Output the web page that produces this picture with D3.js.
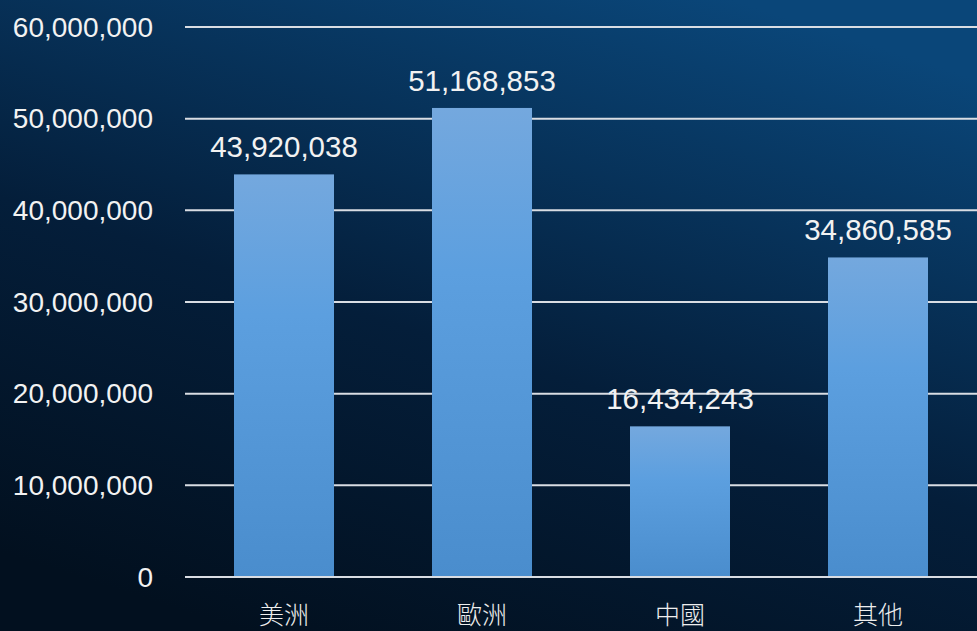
<!DOCTYPE html>
<html>
<head>
<meta charset="utf-8">
<script src="https://cdn.jsdelivr.net/npm/d3@7"></script>
<style>
  html, body { margin: 0; padding: 0; }
  svg { display: block; }
</style>
</head>
<body>
<svg width="977" height="631"></svg>
<script>
const categories = ['美洲', '歐洲', '中國', '其他'];
const values = [43920038, 51168853, 16434243, 34860585];
const yTicks = [0, 10000000, 20000000, 30000000, 40000000, 50000000, 60000000];

const svg = d3.select('svg');
const width = +svg.attr('width');
const height = +svg.attr('height');

const defs = svg.append('defs');
const bg = defs.append('linearGradient')
    .attr('id', 'bg')
    .attr('x1', '0.25').attr('y1', '1')
    .attr('x2', '0.75').attr('y2', '0');
bg.append('stop').attr('offset', '0').attr('stop-color', '#02101f');
bg.append('stop').attr('offset', '0.45').attr('stop-color', '#041e3a');
bg.append('stop').attr('offset', '1').attr('stop-color', '#0a4679');

const barGrad = defs.append('linearGradient')
    .attr('id', 'bar')
    .attr('x1', '0').attr('y1', '0')
    .attr('x2', '0').attr('y2', '1');
barGrad.append('stop').attr('offset', '0').attr('stop-color', '#74a8de');
barGrad.append('stop').attr('offset', '0.35').attr('stop-color', '#5c9fdf');
barGrad.append('stop').attr('offset', '1').attr('stop-color', '#4a8dcd');

svg.append('rect')
    .attr('width', width)
    .attr('height', height)
    .attr('fill', 'url(#bg)');

const x = d3.scaleBand()
    .domain(categories)
    .range([185, 977])
    .paddingInner(0.495)
    .paddingOuter(0.2475);

const y = d3.scaleLinear()
    .domain([0, 60000000])
    .range([577, 27]);

const fmt = d3.format(',');

// gridlines
svg.append('g')
    .selectAll('line')
    .data(yTicks)
    .enter()
    .append('line')
    .attr('x1', 185)
    .attr('x2', width)
    .attr('y1', d => y(d))
    .attr('y2', d => y(d))
    .attr('stroke', '#d9dde3')
    .attr('stroke-width', 2);

// y tick labels
svg.append('g')
    .selectAll('text')
    .data(yTicks)
    .enter()
    .append('text')
    .attr('x', 153)
    .attr('y', d => y(d))
    .attr('text-anchor', 'end')
    .attr('dominant-baseline', 'central')
    .attr('font-family', 'Liberation Sans, Arial, sans-serif')
    .attr('font-size', 28)
    .attr('fill', '#f2f2f2')
    .text(d => fmt(d));

// bars
svg.append('g')
    .selectAll('rect')
    .data(values)
    .enter()
    .append('rect')
    .attr('x', (d, i) => x(categories[i]))
    .attr('y', d => y(d))
    .attr('width', x.bandwidth())
    .attr('height', d => y(0) - y(d))
    .attr('fill', 'url(#bar)');

// redraw baseline over bars
svg.append('line')
    .attr('x1', 185)
    .attr('x2', width)
    .attr('y1', y(0))
    .attr('y2', y(0))
    .attr('stroke', '#d9dde3')
    .attr('stroke-width', 2);

// value labels
svg.append('g')
    .selectAll('text')
    .data(values)
    .enter()
    .append('text')
    .attr('x', (d, i) => x(categories[i]) + x.bandwidth() / 2)
    .attr('y', d => y(d) - 17)
    .attr('text-anchor', 'middle')
    .attr('font-family', 'Liberation Sans, Arial, sans-serif')
    .attr('font-size', 29.5)
    .attr('fill', '#f2f2f2')
    .text(d => fmt(d));

// category labels
svg.append('g')
    .selectAll('text')
    .data(categories)
    .enter()
    .append('text')
    .attr('x', d => x(d) + x.bandwidth() / 2)
    .attr('y', 613)
    .attr('text-anchor', 'middle')
    .attr('dominant-baseline', 'central')
    .attr('font-family', 'Noto Sans CJK TC, sans-serif')
    .attr('font-weight', 300)
    .attr('font-size', 25)
    .attr('fill', '#eeeeee')
    .text(d => d);
</script>
</body>
</html>
